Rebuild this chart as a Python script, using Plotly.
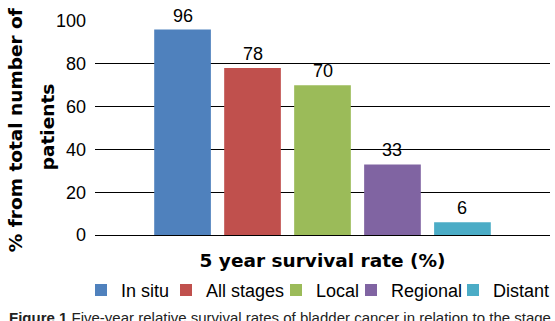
import plotly.graph_objects as go

series = ["In situ", "All stages", "Local", "Regional", "Distant"]
values = [96, 78, 70, 33, 6]
colors = ["#4F81BD", "#C0504D", "#9BBB59", "#8064A2", "#4BACC6"]
category = ["5 year survival rate (%)"]
y_ticks = [0, 20, 40, 60, 80, 100]
y_title_lines = ["% from total number of", "patients"]
caption_bold = "Figure 1"
caption_text = "Five-year relative survival rates of bladder cancer in relation to the stage at diagnosis."

ARIAL = "Arial, 'Liberation Sans', sans-serif"
BOLD = "'DejaVu Sans', Arial, sans-serif"

BARGAP = 0.231
BARGROUPGAP = 0.19
PLOT_L, PLOT_W = 95, 455
PLOT_BOTTOM, PLOT_H = 235.3, 214

# left pixel of each legend entry (matches the reference's entry spacing)
legend_left_px = [81, 166, 276, 351, 453]

fig = go.Figure()
n = len(series)
group_w = 1 - BARGAP
slot = group_w / n
legend_layouts = {}
for i, (name, v, c) in enumerate(zip(series, values, colors)):
    lid = "legend" if i == 0 else f"legend{i + 1}"
    fig.add_trace(go.Bar(x=[0], y=[v], name=name, legend=lid,
                         marker=dict(color=c, line=dict(width=0))))
    fig.add_annotation(x=-group_w / 2 + slot * (i + 0.5), y=v, xref="x", yref="y",
                       text=str(v), showarrow=False, yanchor="bottom", yshift=2,
                       font=dict(family=ARIAL, size=18, color="#000"))
    legend_layouts[lid] = dict(orientation="h", xref="paper", yref="paper",
                               x=(legend_left_px[i] - PLOT_L) / PLOT_W, xanchor="left",
                               y=(PLOT_BOTTOM - 272) / PLOT_H, yanchor="top",
                               bgcolor="rgba(0,0,0,0)",
                               font=dict(family=ARIAL, size=18, color="#000"))

fig.update_layout(
    width=555, height=321,
    margin=dict(l=95, r=5, t=21, b=86, autoexpand=False),
    barmode="group", bargap=BARGAP, bargroupgap=BARGROUPGAP,
    paper_bgcolor="white", plot_bgcolor="white",
    font=dict(family=ARIAL, size=18, color="#000"),
    xaxis=dict(range=[-0.5, 0.5], showticklabels=False, ticks="", showgrid=False, zeroline=False,
               showline=False,
               title=dict(text="<b>" + category[0] + "</b>", standoff=19,
                          font=dict(family=BOLD, size=18.5, color="#000"))),
    yaxis=dict(range=[0, 100], tickvals=y_ticks, showgrid=True, gridcolor="#000", gridwidth=1,
               zeroline=True, zerolinecolor="#000", zerolinewidth=1, showline=False,
               ticks="", ticklabelstandoff=8, tickfont=dict(family=ARIAL, size=18, color="#000")),
    showlegend=True,
    **legend_layouts,
)

fig.add_annotation(xref="paper", yref="paper", x=(3 - PLOT_L) / PLOT_W, y=(PLOT_BOTTOM - 130) / PLOT_H,
                   text="<b>" + y_title_lines[0] + "</b>",
                   textangle=-90, showarrow=False, font=dict(family=BOLD, size=18.5, color="#000"))
fig.add_annotation(xref="paper", yref="paper", x=(35 - PLOT_L) / PLOT_W, y=(PLOT_BOTTOM - 128) / PLOT_H,
                   text="<b>" + y_title_lines[1] + "</b>",
                   textangle=-90, showarrow=False, font=dict(family=BOLD, size=18.5, color="#000"))
fig.add_annotation(xref="paper", yref="paper", x=(7 - PLOT_L) / PLOT_W, xanchor="left",
                   y=(PLOT_BOTTOM - 307) / PLOT_H, yanchor="top",
                   text="<b>" + caption_bold + "</b> " + caption_text, showarrow=False,
                   font=dict(family=ARIAL, size=15, color="#222"))

fig.write_html("out.html")
